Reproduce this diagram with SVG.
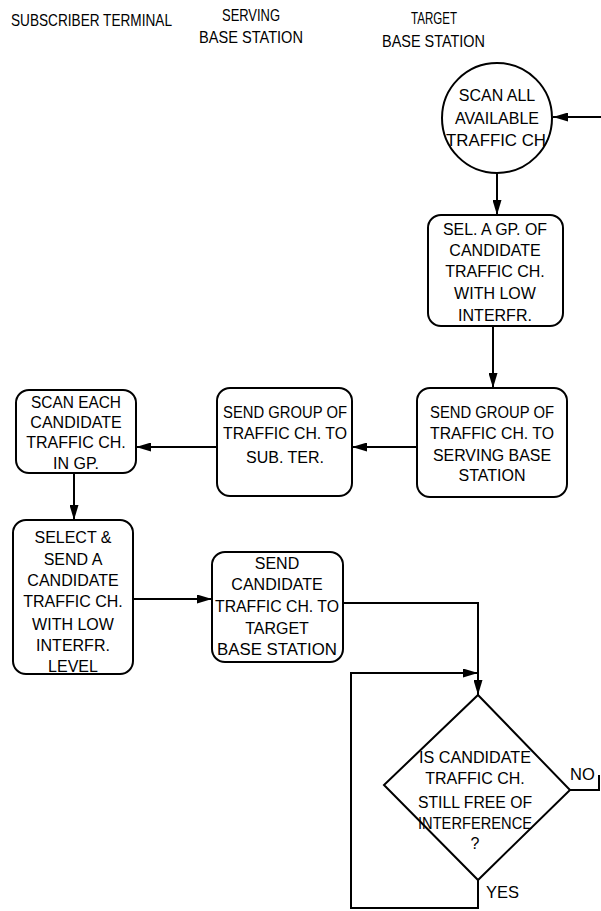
<svg xmlns="http://www.w3.org/2000/svg" width="601" height="911" viewBox="0 0 601 911">
<style>
text{font-family:"Liberation Sans",Arial,sans-serif;fill:#000}
.h{font-size:16.5px}
.t{font-size:16px;text-anchor:middle}
.n{fill:#fff;stroke:#000;stroke-width:2}
.c{fill:none;stroke:#000;stroke-width:2}
</style>
<defs>
<marker id="ah" viewBox="0 0 15 9" refX="15" refY="4.5" markerWidth="15" markerHeight="9" markerUnits="userSpaceOnUse" orient="auto">
<path d="M0,0 L15,4.5 L0,9 z" fill="#000"/>
</marker>
</defs>
<rect width="601" height="911" fill="#fff"/>
<g id="headers">
<text class="h" x="11" y="26" textLength="161" lengthAdjust="spacingAndGlyphs">SUBSCRIBER TERMINAL</text>
<text class="h" x="222" y="21" textLength="58" lengthAdjust="spacingAndGlyphs">SERVING</text>
<text class="h" x="199" y="43" textLength="104" lengthAdjust="spacingAndGlyphs">BASE STATION</text>
<text class="h" x="411" y="24" textLength="46" lengthAdjust="spacingAndGlyphs">TARGET</text>
<text class="h" x="382" y="47" textLength="103" lengthAdjust="spacingAndGlyphs">BASE STATION</text>
</g>
<g id="connectors">
<path class="c" d="M601,117 L553,117" marker-end="url(#ah)"/>
<path class="c" d="M497,173 L497,215" marker-end="url(#ah)"/>
<path class="c" d="M493,326 L493,388" marker-end="url(#ah)"/>
<path class="c" d="M417,447 L352,447" marker-end="url(#ah)"/>
<path class="c" d="M217,447 L136,447" marker-end="url(#ah)"/>
<path class="c" d="M74,473 L74,520" marker-end="url(#ah)"/>
<path class="c" d="M133,599 L212,599" marker-end="url(#ah)"/>
<path class="c" d="M343,603 L478,603 L478,695" marker-end="url(#ah)"/>
<path class="c" d="M478,880 L478,908 L351,908 L351,673 L478,673" marker-end="url(#ah)"/>
<path class="c" d="M570,790 L599,790 L599,775"/>
</g>
<g id="scan-all">
<circle class="n" cx="497" cy="118" r="55"/>
<text class="t" x="497" y="101">SCAN ALL</text>
<text class="t" x="497" y="124">AVAILABLE</text>
<text class="t" x="496" y="146" textLength="100" lengthAdjust="spacingAndGlyphs">TRAFFIC CH</text>
</g>
<g id="select-group">
<rect class="n" x="428" y="215" width="135" height="111" rx="13"/>
<text class="t" x="495" y="235" textLength="104" lengthAdjust="spacingAndGlyphs">SEL. A GP. OF</text>
<text class="t" x="495" y="256">CANDIDATE</text>
<text class="t" x="495" y="277">TRAFFIC CH.</text>
<text class="t" x="495" y="299">WITH LOW</text>
<text class="t" x="495" y="321">INTERFR.</text>
</g>
<g id="send-group-target">
<rect class="n" x="417" y="388" width="150" height="109" rx="13"/>
<text class="t" x="492" y="418" textLength="124" lengthAdjust="spacingAndGlyphs">SEND GROUP OF</text>
<text class="t" x="492" y="439" textLength="124" lengthAdjust="spacingAndGlyphs">TRAFFIC CH. TO</text>
<text class="t" x="492" y="461" textLength="118" lengthAdjust="spacingAndGlyphs">SERVING BASE</text>
<text class="t" x="492" y="481">STATION</text>
</g>
<g id="send-group-serving">
<rect class="n" x="217" y="388" width="135" height="108" rx="13"/>
<text class="t" x="285" y="418" textLength="124" lengthAdjust="spacingAndGlyphs">SEND GROUP OF</text>
<text class="t" x="285" y="439" textLength="124" lengthAdjust="spacingAndGlyphs">TRAFFIC CH. TO</text>
<text class="t" x="285" y="463">SUB. TER.</text>
</g>
<g id="scan-each">
<rect class="n" x="16" y="390" width="120" height="83" rx="13"/>
<text class="t" x="76" y="408" textLength="90" lengthAdjust="spacingAndGlyphs">SCAN EACH</text>
<text class="t" x="76" y="428">CANDIDATE</text>
<text class="t" x="76" y="448">TRAFFIC CH.</text>
<text class="t" x="76" y="469">IN GP.</text>
</g>
<g id="select-send">
<rect class="n" x="13" y="520" width="120" height="154" rx="13"/>
<text class="t" x="73" y="543">SELECT &amp;</text>
<text class="t" x="73" y="565">SEND A</text>
<text class="t" x="73" y="586">CANDIDATE</text>
<text class="t" x="73" y="607">TRAFFIC CH.</text>
<text class="t" x="73" y="630">WITH LOW</text>
<text class="t" x="73" y="651">INTERFR.</text>
<text class="t" x="73" y="672">LEVEL</text>
</g>
<g id="send-candidate">
<rect class="n" x="212" y="552" width="131" height="110" rx="13"/>
<text class="t" x="277" y="569">SEND</text>
<text class="t" x="277" y="590">CANDIDATE</text>
<text class="t" x="277" y="612" textLength="124" lengthAdjust="spacingAndGlyphs">TRAFFIC CH. TO</text>
<text class="t" x="277" y="634">TARGET</text>
<text class="t" x="277" y="655" textLength="120" lengthAdjust="spacingAndGlyphs">BASE STATION</text>
</g>
<g id="decision">
<path class="n" d="M478,695 L570,790 L478,880 L384,785 Z"/>
<text class="t" x="475" y="763" textLength="112" lengthAdjust="spacingAndGlyphs">IS CANDIDATE</text>
<text class="t" x="475" y="784">TRAFFIC CH.</text>
<text class="t" x="475" y="808" textLength="114" lengthAdjust="spacingAndGlyphs">STILL FREE OF</text>
<text class="t" x="475" y="829" textLength="114" lengthAdjust="spacingAndGlyphs">INTERFERENCE</text>
<text class="t" x="475" y="849">?</text>
<text class="h" x="570" y="780">NO</text>
<text class="h" x="486" y="898">YES</text>
</g>
</svg>
